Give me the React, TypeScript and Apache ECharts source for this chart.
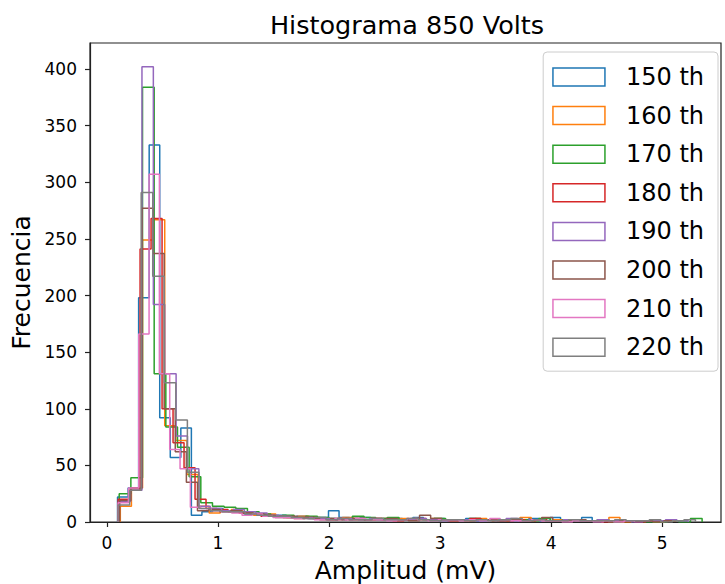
import React, { useEffect, useRef } from "react";
import * as echarts from "echarts";

const seriesNames = ["150 th", "160 th", "170 th", "180 th", "190 th", "200 th", "210 th", "220 th"];
const colors = ["#1f77b4", "#ff7f0e", "#2ca02c", "#d62728", "#9467bd", "#8c564b", "#e377c2", "#7f7f7f"];

// bin start (mV) and bin width (mV) of each histogram (50 bins each)
const binStart = [0.095, 0.12, 0.11, 0.10, 0.11, 0.115, 0.10, 0.10];
const binWidth = [0.095, 0.1, 0.105, 0.099, 0.1025, 0.1, 0.093, 0.104];

const counts150 = [22, 30, 198, 333, 92, 57, 83, 6, 9, 12, 10, 9, 7, 6, 5, 6, 4, 5, 3, 4, 10, 4, 3, 4, 2, 3, 3, 2, 4, 2, 3, 2, 2, 3, 1, 2, 2, 1, 2, 3, 1, 4, 2, 1, 4, 1, 1, 0, 1, 1];
const counts160 = [14, 30, 249, 267, 85, 72, 42, 14, 8, 10, 11, 8, 6, 7, 5, 4, 5, 4, 3, 2, 4, 3, 2, 3, 2, 3, 2, 2, 3, 2, 2, 1, 3, 2, 1, 2, 4, 2, 1, 2, 2, 1, 1, 2, 4, 0, 1, 1, 0, 1];
const counts170 = [25, 39, 384, 131, 84, 66, 40, 17, 14, 13, 12, 9, 7, 5, 6, 4, 5, 4, 3, 3, 5, 4, 3, 4, 2, 3, 2, 3, 2, 2, 3, 2, 1, 2, 2, 1, 3, 1, 2, 1, 1, 2, 0, 1, 1, 0, 0, 1, 0, 3];
const counts180 = [20, 28, 241, 268, 100, 70, 48, 20, 12, 11, 9, 8, 7, 5, 5, 4, 3, 4, 3, 2, 3, 2, 2, 3, 2, 1, 2, 3, 2, 2, 1, 2, 3, 2, 1, 1, 2, 1, 2, 1, 1, 2, 1, 1, 0, 1, 1, 0, 1, 1];
const counts190 = [18, 28, 402, 192, 131, 76, 47, 14, 12, 10, 11, 9, 8, 6, 5, 4, 4, 3, 3, 2, 3, 2, 3, 2, 2, 2, 3, 2, 1, 2, 2, 1, 2, 1, 3, 1, 2, 1, 1, 2, 1, 1, 2, 1, 1, 0, 1, 1, 2, 1];
const counts200 = [19, 30, 277, 237, 100, 62, 35, 10, 11, 9, 10, 8, 7, 6, 4, 5, 4, 3, 2, 3, 2, 3, 2, 2, 3, 2, 1, 6, 3, 2, 2, 1, 2, 2, 1, 2, 1, 2, 4, 1, 1, 2, 1, 1, 0, 1, 1, 1, 0, 1];
const counts210 = [17, 30, 166, 307, 131, 64, 47, 13, 12, 10, 9, 8, 6, 7, 5, 4, 4, 3, 3, 2, 2, 3, 2, 3, 2, 2, 1, 2, 3, 2, 1, 2, 2, 1, 2, 1, 3, 2, 1, 1, 2, 1, 1, 0, 1, 1, 0, 1, 0, 1];
const counts220 = [15, 28, 291, 217, 123, 90, 44, 12, 10, 9, 9, 7, 6, 5, 5, 4, 3, 4, 2, 3, 2, 2, 3, 2, 2, 3, 2, 1, 2, 2, 1, 2, 1, 2, 3, 1, 2, 1, 1, 2, 1, 1, 1, 2, 1, 1, 2, 0, 1, 2];

const allCounts = [counts150, counts160, counts170, counts180, counts190, counts200, counts210, counts220];

const xTickValues = [0, 1, 2, 3, 4, 5];
const FONT = "DejaVu Sans";

function stepPoints(start: number, w: number, c: number[]): number[][] {
  const pts: number[][] = [[start, 0]];
  for (let i = 0; i < c.length; i++) {
    pts.push([start + i * w, c[i]]);
    pts.push([start + (i + 1) * w, c[i]]);
  }
  pts.push([start + c.length * w, 0]);
  return pts;
}

export default function App() {
  const ref = useRef<HTMLDivElement>(null);
  useEffect(() => {
    if (!ref.current) return;
    const chart = echarts.init(ref.current, null, { renderer: "svg" });
    chart.setOption({
      animation: false,
      backgroundColor: "#ffffff",
      title: {
        text: "Histograma 850 Volts",
        left: 402,
        top: 7,
        textAlign: "center",
        textStyle: { fontFamily: FONT, fontSize: 25.5, fontWeight: "normal", color: "#000" },
      },
      grid: {
        left: 90,
        right: 4,
        top: 43,
        bottom: 62,
        show: true,
        borderColor: "#222",
        borderWidth: 1.2,
        outerBoundsMode: "none",
        containLabel: false,
      },
      xAxis: {
        type: "value",
        min: -0.153,
        max: 5.53,
        name: "Amplitud (mV)",
        nameLocation: "middle",
        nameGap: 36,
        nameTextStyle: { fontFamily: FONT, fontSize: 25, color: "#000" },
        axisLine: { show: true, onZero: false, lineStyle: { color: "#222", width: 1.2 } },
        axisTick: { show: true, length: 5, inside: false, customValues: xTickValues, lineStyle: { color: "#222", width: 1.2 } },
        axisLabel: { customValues: xTickValues, fontFamily: FONT, fontSize: 17, color: "#000", margin: 12 },
        splitLine: { show: false },
      },
      yAxis: {
        type: "value",
        min: 0,
        max: 423,
        interval: 50,
        name: "Frecuencia",
        nameLocation: "middle",
        nameGap: 55,
        nameTextStyle: { fontFamily: FONT, fontSize: 25, color: "#000" },
        axisLine: { show: true, onZero: false, lineStyle: { color: "#222", width: 1.2 } },
        axisTick: { show: true, length: 5, lineStyle: { color: "#222", width: 1.2 } },
        axisLabel: { fontFamily: FONT, fontSize: 17, color: "#000", margin: 13, showMaxLabel: false },
        splitLine: { show: false },
      },
      legend: {
        orient: "vertical",
        right: 7,
        top: 52,
        padding: [13, 14, 12, 9],
        backgroundColor: "#ffffff",
        borderColor: "#cccccc",
        borderWidth: 1,
        borderRadius: 4,
        itemWidth: 52,
        itemHeight: 18,
        itemGap: 14.6,
        textStyle: { fontFamily: FONT, fontSize: 24, color: "#000", lineHeight: 20, padding: [0, 0, 0, 16] },
        data: seriesNames.map((n, i) => ({
          name: n,
          icon: "rect",
          itemStyle: { color: "rgba(0,0,0,0)", borderColor: colors[i], borderWidth: 1.5 },
        })),
      },
      series: seriesNames.map((n, i) => ({
        name: n,
        type: "line",
        data: stepPoints(binStart[i], binWidth[i], allCounts[i]),
        showSymbol: false,
        symbol: "none",
        lineStyle: { color: colors[i], width: 1.5 },
        itemStyle: { color: colors[i] },
        clip: true,
      })),
    });
    return () => chart.dispose();
  }, []);
  return <div ref={ref} style={{ position: "fixed", left: 0, top: 0, width: 725, height: 584 }} />;
}
